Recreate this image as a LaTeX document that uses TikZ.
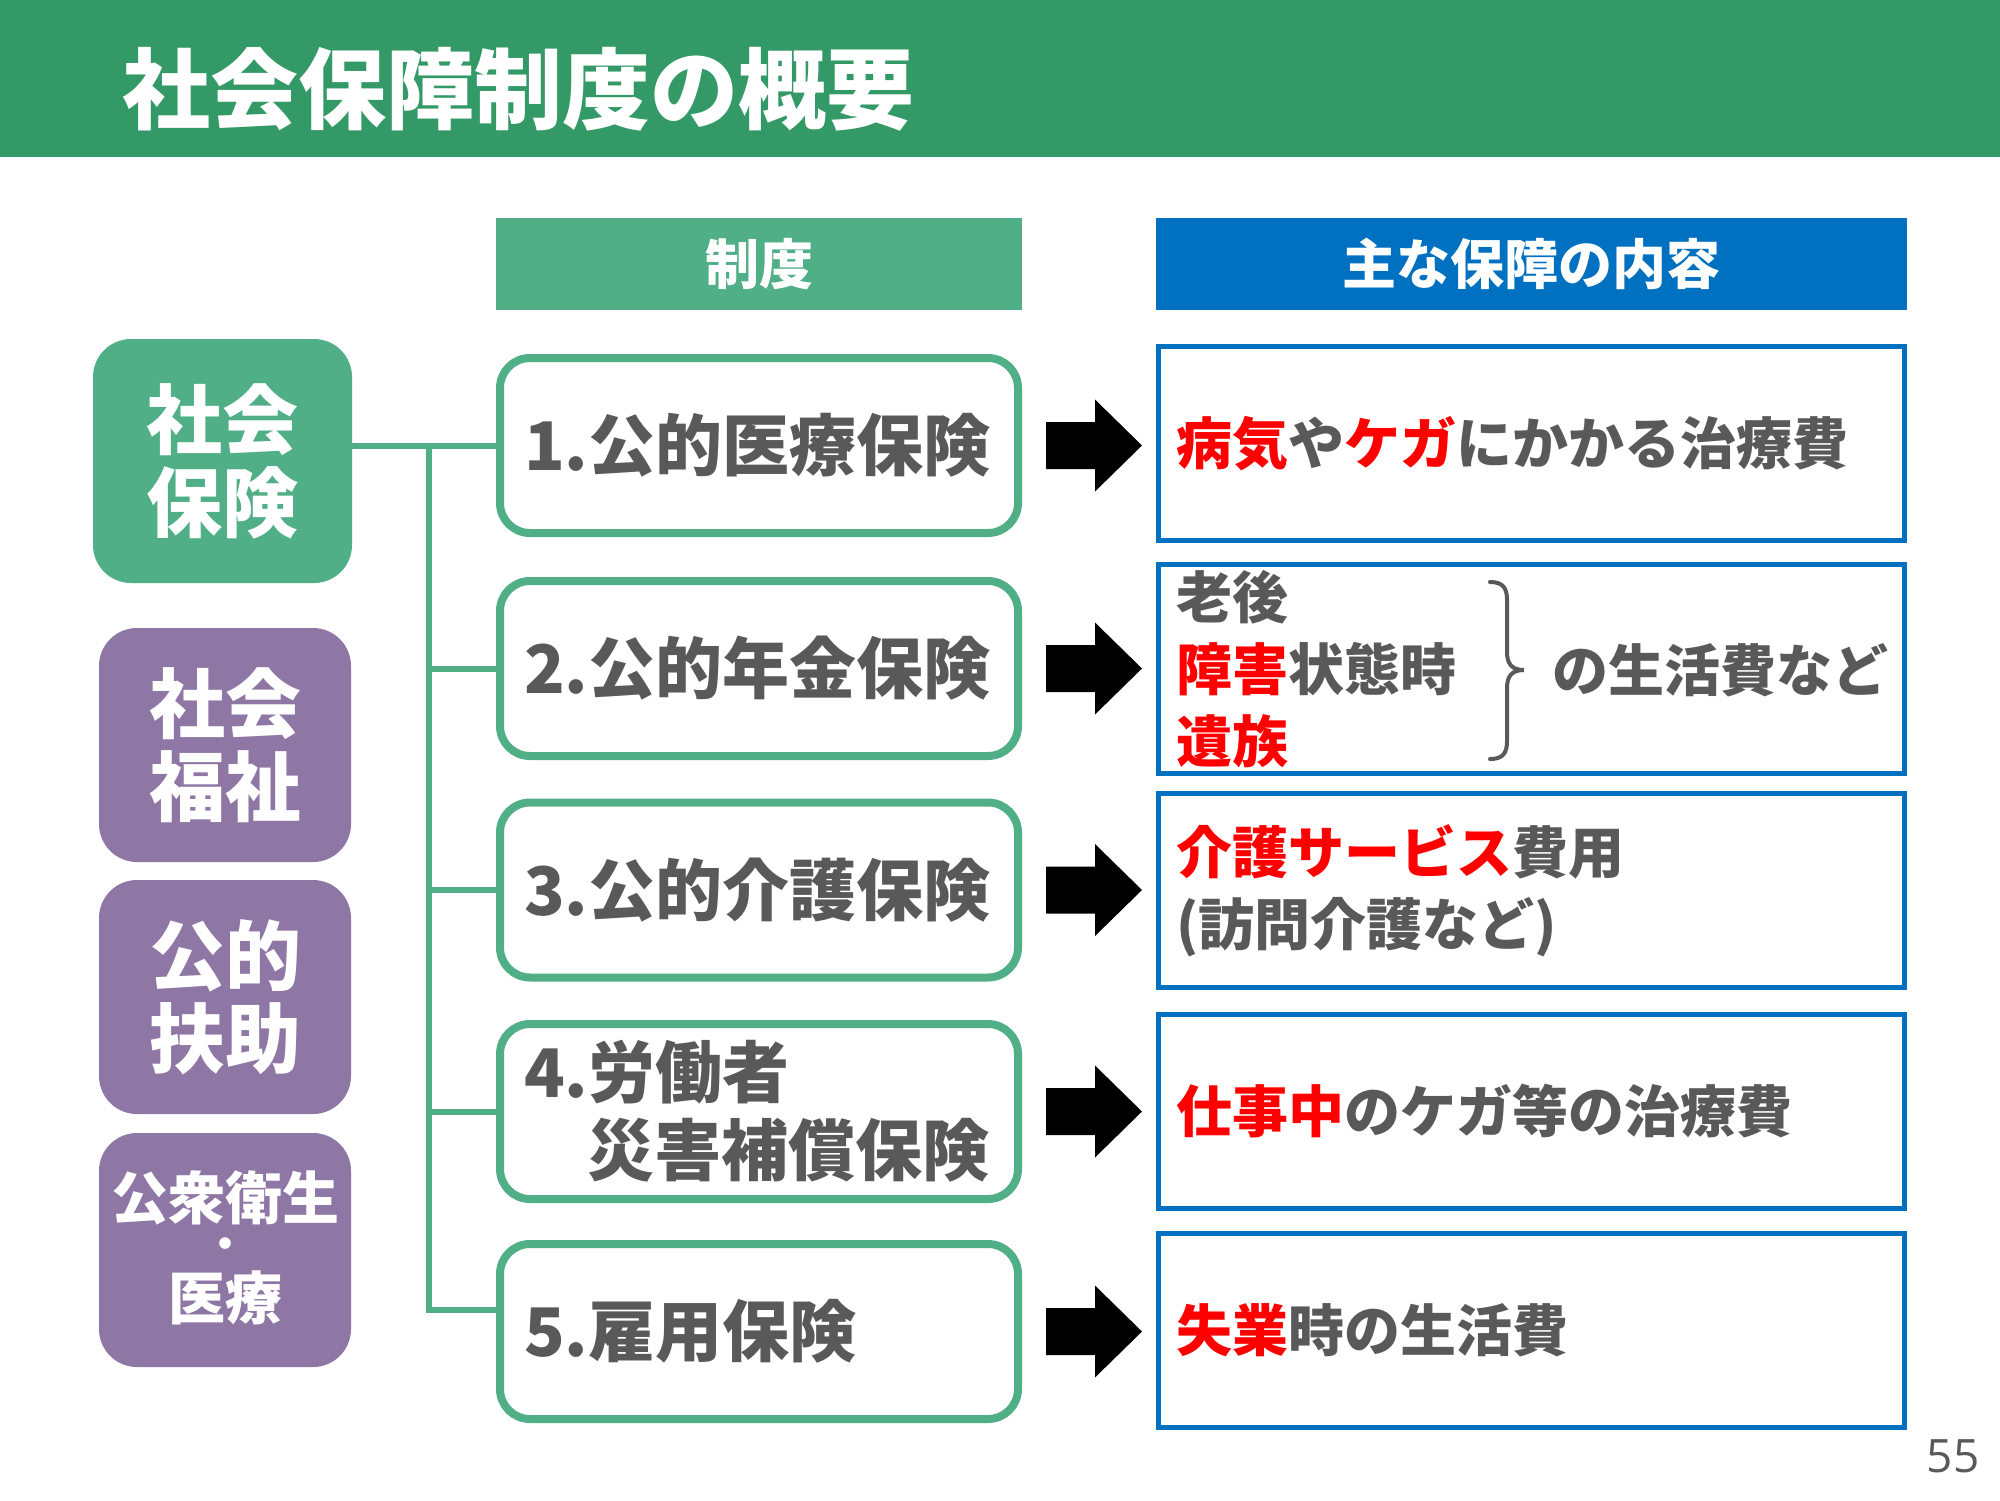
\documentclass[tikz,border=0pt]{standalone}
\usepackage{fontspec}
\setmainfont{Noto Sans CJK JP}
\newfontfamily\numfont{Open Sans}
\usetikzlibrary{calc}
\definecolor{titlegreen}{RGB}{51,153,102}
\definecolor{boxgreen}{RGB}{80,175,135}
\definecolor{purp}{RGB}{142,118,165}
\definecolor{bluec}{RGB}{0,112,192}
\definecolor{txtgray}{RGB}{89,89,89}
\definecolor{redc}{RGB}{255,0,0}
\tikzset{
 leftg/.style={fill=boxgreen, rounded corners=38pt, minimum width=259pt, minimum height=244pt, text=white, align=center, font=\bfseries\fontsize{76}{83}\selectfont, inner sep=0pt},
 leftp/.style={leftg, fill=purp, minimum width=252pt, minimum height=234pt},
 midbox/.style={draw=boxgreen, line width=8pt, fill=white, rounded corners=30pt, minimum height=175pt, text width=470pt, inner xsep=24pt, inner ysep=0pt, align=left, text=txtgray, font=\bfseries\fontsize{67}{78}\selectfont},
 rbox/.style={draw=bluec, line width=5pt, fill=white, minimum height=194pt, text width=711pt, inner xsep=17.5pt, inner ysep=0pt, align=left, text=txtgray, font=\bfseries\fontsize{56}{72}\selectfont},
 hdr/.style={minimum height=92pt, text=white, font=\bfseries\fontsize{54}{60}\selectfont, inner sep=0pt},
 conn/.style={draw=boxgreen, line width=6pt},
 bigarrow/.pic={\fill[black] (-48,-23.5) -- (1,-23.5) -- (1,-46) -- (48,0) -- (1,46) -- (1,23.5) -- (-48,23.5) -- cycle;},
}
\newcommand{\rd}[1]{\textcolor{redc}{#1}}
\begin{document}
\begin{tikzpicture}[x=1pt,y=-1pt]
\useasboundingbox (0,0) rectangle (2000,1500);
\fill[white] (0,0) rectangle (2000,1500);
% title bar
\fill[titlegreen] (0,0) rectangle (2000,157);
\node[anchor=west, text=white, font=\bfseries\fontsize{88}{96}\selectfont, inner sep=0pt] (title) at (122,89) {社会保障制度の概要};
% headers
\node[hdr, fill=boxgreen, minimum width=526pt] (h1) at (759,264) {制度};
\node[hdr, fill=bluec, minimum width=751pt] (h2) at (1531.5,264) {主な保障の内容};
% left boxes
\node[leftg] (sh) at (222.5,461) {社会\\保険};
\node[leftp] (sw) at (225,745) {社会\\福祉};
\node[leftp] (kf) at (225,997) {公的\\扶助};
\node[leftp] (ph) at (225,1250) {};
\node[inner sep=0pt, text=white, font=\bfseries\fontsize{57}{60}\selectfont] (ph1) at (225,1198) {公衆衛生};
\node[inner sep=0pt, text=white, font=\bfseries\fontsize{42}{44}\selectfont] (ph2) at (225,1249) {・};
\node[inner sep=0pt, text=white, font=\bfseries\fontsize{57}{60}\selectfont] (ph3) at (225,1298) {医療};
% middle boxes
\node[midbox] (m1) at (759,445.5) {1.公的医療保険};
\node[midbox] (m2) at (759,668.5) {2.公的年金保険};
\node[midbox] (m3) at (759,890) {3.公的介護保険};
\node[midbox] (m4) at (759,1111.5) {4.労働者\\\hspace*{63pt}災害補償保険};
\node[midbox] (m5) at (759,1331.5) {5.雇用保険};
% connectors
\coordinate (sp) at (429,0);
\coordinate (c5) at ($(m5.west)+(0,-22)$);
\draw[conn] (sh.east |- m1.west) -- (m1.west);
\draw[conn, line join=miter] (sp |- m1.west) -- (sp |- c5) -- (c5);
\foreach \m in {m2,m3,m4} \draw[conn] (sp |- \m.west) -- (\m.west);
% right boxes
\node[rbox] (r1) at (1531.5,443.5) {\rd{病気}や\rd{ケガ}にかかる治療費};
\node[rbox, minimum height=209pt] (r2) at (1531.5,669) {老後\\\rd{障害}状態時\\\rd{遺族}};
\node[rbox] (r3) at (1531.5,890.5) {\rd{介護サービス}費用\\(訪問介護など)};
\node[rbox] (r4) at (1531.5,1111.5) {\rd{仕事中}のケガ等の治療費};
\node[rbox] (r5) at (1531.5,1330) {\rd{失業}時の生活費};
% brace and tail text in r2
\draw[txtgray, line width=4pt, line cap=round] (1490,582) .. controls (1503,582) and (1507,588) .. (1507,600) -- (1507,652) .. controls (1507,664) and (1512,670) .. (1524,670) .. controls (1512,670) and (1507,676) .. (1507,688) -- (1507,741) .. controls (1507,753) and (1503,759) .. (1490,759);
\node[anchor=west, inner sep=0pt, text=txtgray, font=\bfseries\fontsize{56}{72}\selectfont] (r2b) at (1552,670) {の生活費など};
% arrows
\coordinate (ax) at (1094,0);
\foreach \m in {m1,m2,m3,m4,m5} \pic at (ax |- \m.east) {bigarrow};
% page number
\node[text=txtgray, font=\numfont\fontsize{46}{50}\selectfont, inner sep=0pt] (pn) at (1953,1456) {55};
\end{tikzpicture}
\end{document}
